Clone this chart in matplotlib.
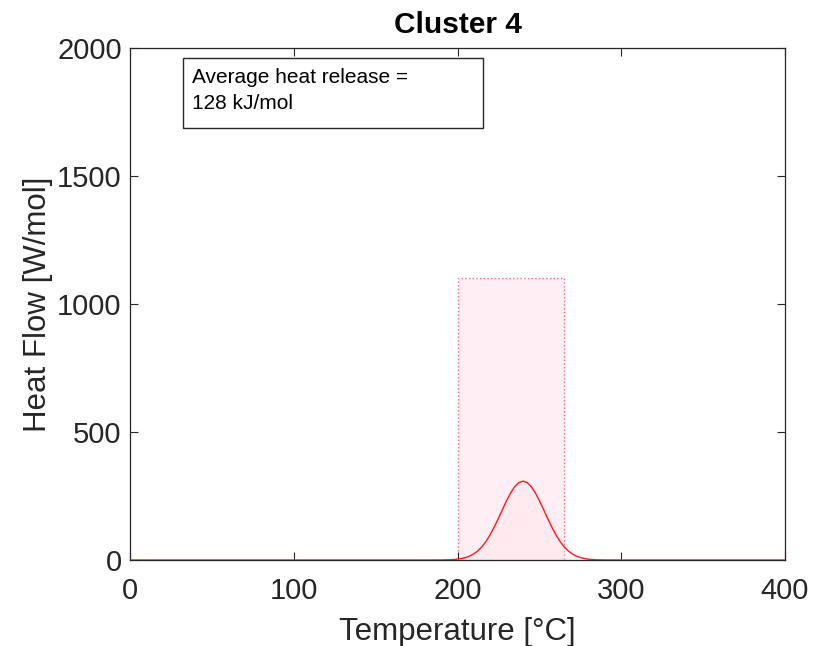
import numpy as np
import matplotlib.pyplot as plt
from matplotlib.patches import Rectangle

# heat flow curve for cluster 4 (temperature in degC, heat flow in W/mol)
temperature = [0, 180, 190, 195, 197.5, 200, 202.5, 205, 207.5, 210, 212.5, 215,
               217.5, 220, 222.5, 225, 227.5, 230, 232.5, 235, 237.5, 240,
               242.5, 245, 247.5, 250, 252.5, 255, 257.5, 260, 262.5, 265,
               267.5, 270, 272.5, 275, 277.5, 280, 282.5, 285, 290, 300, 400]
heat_flow = [0, 0, 0.3, 1.0, 1.9, 3.3, 5.8, 9.7, 15.6, 24.2, 36.3, 52.7,
             73.6, 99.5, 129.6, 163, 198, 232, 262.7, 287, 302.6, 308,
             302.6, 287, 262.7, 232, 198, 163, 129.6, 99.5, 73.6, 52.7,
             36.3, 24.2, 15.6, 9.7, 5.8, 3.3, 1.9, 1.0, 0.3, 0, 0]

# reaction window
window_start = 200
window_end = 265
window_height = 1100

avg_heat = 128  # kJ/mol

plt.rcParams['font.family'] = ['Liberation Sans', 'DejaVu Sans']

fig = plt.figure(figsize=(8.25, 6.46), dpi=100)
ax = fig.add_axes([0.1576, 0.1331, 0.7939, 0.7926])

ax.add_patch(Rectangle((window_start, 0), window_end - window_start, window_height,
                       facecolor='#ffeef3', edgecolor='#ff6b7a', linestyle=':',
                       linewidth=1.0, zorder=1))

ax.fill_between(temperature, heat_flow, color='#ffe4ea', alpha=0.35, zorder=2)
ax.plot(temperature, heat_flow, color='#ff1a1a', linewidth=1.0, zorder=3)

ax.set_xlim(0, 400)
ax.set_ylim(0, 2000)
ax.set_xticks([0, 100, 200, 300, 400])
ax.set_yticks([0, 500, 1000, 1500, 2000])

ax.tick_params(direction='in', length=6, width=0.8, top=True, right=True,
               labelsize=21, colors='#262626')
ax.tick_params(axis='x', pad=12)
ax.tick_params(axis='y', pad=6)
for s in ax.spines.values():
    s.set_color('#262626')
    s.set_linewidth(0.9)

ax.set_xlabel('Temperature [°C]', fontsize=22.5, color='#262626', labelpad=9)
ax.set_ylabel('Heat Flow [W/mol]', fontsize=22.5, color='#262626', labelpad=3)
ax.set_title('Cluster 4', fontsize=21.5, fontweight='bold', pad=11)

# annotation box
ax.add_patch(Rectangle((32.4, 1687), 183.2, 274, facecolor='white',
                       edgecolor='#262626', linewidth=1.0, zorder=4))
ax.text(38, 1922, 'Average heat release =\n%d kJ/mol' % avg_heat,
        fontsize=15, va='top', ha='left', linespacing=1.45, zorder=5)

fig.savefig('out.png', dpi=100)
